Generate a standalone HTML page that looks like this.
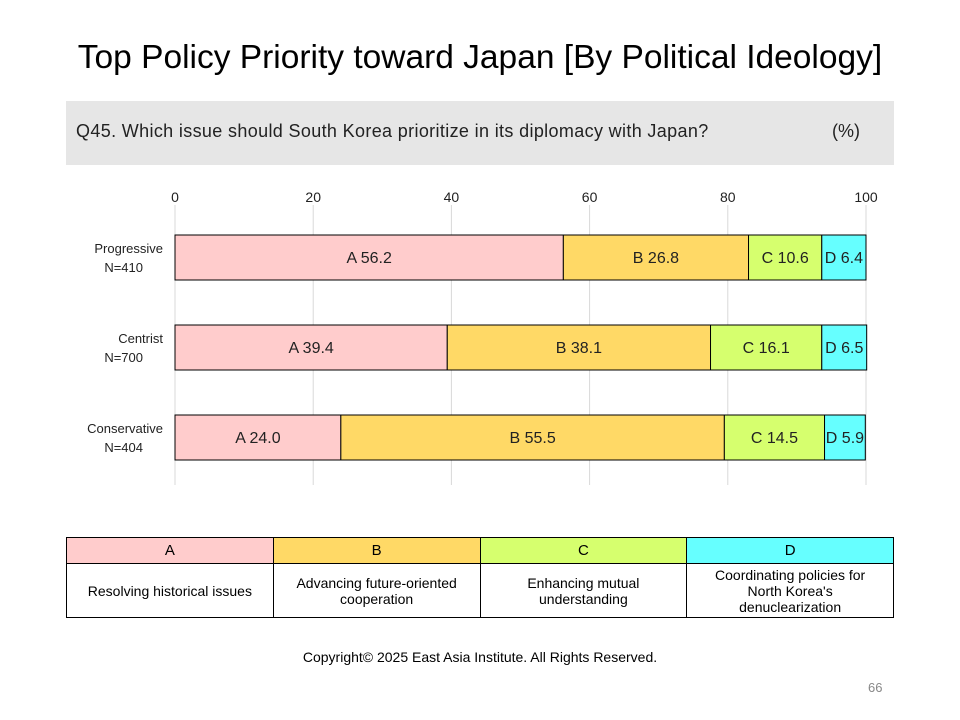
<!DOCTYPE html>
<html><head><meta charset="utf-8"><style>
body{margin:0;width:960px;height:720px;background:#fff;font-family:"Liberation Sans",sans-serif;position:relative;overflow:hidden}
.abs{position:absolute}
table{border-collapse:collapse;position:absolute;left:66px;top:537px;width:828px;table-layout:fixed}
td{border:1px solid #000;text-align:center;font-size:14px;padding:0 6px;line-height:16px}
</style></head><body>
<div class="abs" style="left:0;width:960px;top:39px;text-align:center;font-size:33.5px;color:#000">Top Policy Priority toward Japan [By Political Ideology]</div>
<div class="abs" style="left:66px;top:101px;width:828px;height:64px;background:#e6e6e6"></div>
<div class="abs" style="left:76px;top:121px;font-size:18px;letter-spacing:0.35px;color:#222">Q45. Which issue should South Korea prioritize in its diplomacy with Japan?</div>
<div class="abs" style="left:832px;top:121px;font-size:18px;color:#222">(%)</div>
<svg class="abs" style="left:0;top:0" width="960" height="720" id="chart"></svg>
<table>
<tr style="height:26px"><td style="background:#ffcccc;font-size:15px">A</td><td style="background:#ffd966;font-size:15px">B</td><td style="background:#d6ff6e;font-size:15px">C</td><td style="background:#66ffff;font-size:15px">D</td></tr>
<tr style="height:54px"><td style="padding:0 2px">Resolving historical issues</td><td style="padding:0 2px">Advancing future-oriented cooperation</td><td style="padding:0 30px">Enhancing mutual understanding</td><td style="padding:0 10px">Coordinating policies for North Korea's denuclearization</td></tr>
</table>
<div class="abs" style="left:0;width:960px;top:649px;text-align:center;font-size:14px">Copyright© 2025 East Asia Institute. All Rights Reserved.</div>
<div class="abs" style="left:868px;top:680px;font-size:13px;color:#888">66</div>
<script>
const categories=["Progressive","Centrist","Conservative"];
const sampleSizes=["N=410","N=700","N=404"];
const seriesNames=["A","B","C","D"];
const seriesA=[56.2,39.4,24.0];
const seriesB=[26.8,38.1,55.5];
const seriesC=[10.6,16.1,14.5];
const seriesD=[6.4,6.5,5.9];
const ticks=[0,20,40,60,80,100];
const colors=["#ffcccc","#ffd966","#d6ff6e","#66ffff"];
const svg=document.getElementById('chart');
const NS="http://www.w3.org/2000/svg";
const x=v=>175+v*6.91;
const y=i=>235+i*90;
function mk(t,a){const e=document.createElementNS(NS,t);for(const k in a)e.setAttribute(k,a[k]);svg.appendChild(e);return e;}
ticks.forEach(t=>{
const l=mk('line',{x1:x(t),x2:x(t),y1:205,y2:485,stroke:'#d9d9d9','stroke-width':1});


const tx=mk('text',{x:x(t),y:202,'text-anchor':'middle','font-size':14,fill:'#222'});tx.textContent=t;


});
const series=[seriesA,seriesB,seriesC,seriesD];
categories.forEach((c,i)=>{
let acc=0;
series.forEach((s,j)=>{
const v=s[i];
const r=mk('rect',{x:x(acc),y:y(i),width:x(acc+v)-x(acc),height:45,fill:colors[j],stroke:'#000','stroke-width':1});


const t=mk('text',{x:(x(acc)+x(acc+v))/2,y:y(i)+28,'text-anchor':'middle','font-size':16,fill:'#222'});
t.textContent=seriesNames[j]+' '+v.toFixed(1);


acc+=v;
});
const l1=mk('text',{x:163,y:y(i)+18,'text-anchor':'end','font-size':13,fill:'#222'});l1.textContent=c;


const l2=mk('text',{x:143,y:y(i)+37,'text-anchor':'end','font-size':13,fill:'#222'});l2.textContent=sampleSizes[i];


});
</script>
</body></html>
